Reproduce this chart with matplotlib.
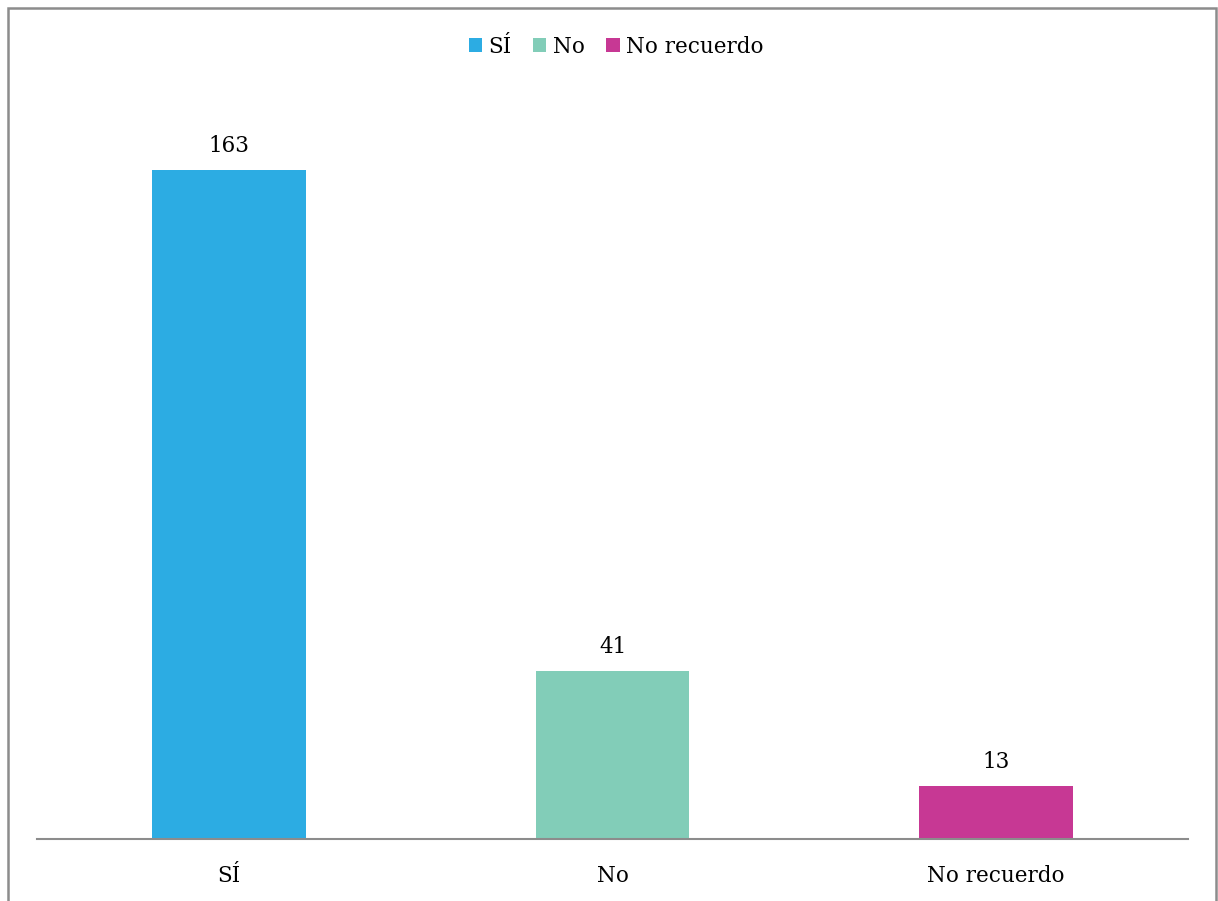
import matplotlib
matplotlib.use('Agg')
import matplotlib.pyplot as plt
from matplotlib.patches import Rectangle, Patch

# Data
categories = ['SÍ', 'No', 'No recuerdo']
values = [163, 41, 13]
colors = ['#2CACE3', '#82CDB8', '#C73894']

plt.rcParams['font.family'] = ['DejaVu Serif']
FS = 15.5

fig = plt.figure(figsize=(12.18, 9.01), dpi=100)
W, H = 1218, 901

# axes placed in pixels: x 37..1188, y 100..839 (from top)
ax = fig.add_axes([37 / W, 1 - 839 / H, (1188 - 37) / W, (839 - 100) / H])
x = range(len(categories))
ax.bar(x, values, width=0.4, color=colors)
for xi, v in zip(x, values):
    ax.annotate(str(v), (xi, v), xytext=(0, 9), textcoords='offset points',
                ha='center', va='bottom', fontsize=FS, color='#000000')

ax.set_xlim(-0.5, 2.5)
ax.set_ylim(0, 180)
ax.set_yticks([])
ax.set_xticks(list(x))
ax.set_xticklabels(categories, fontsize=FS)
ax.tick_params(axis='x', length=0, pad=19)
for s in ['top', 'right', 'left']:
    ax.spines[s].set_visible(False)
ax.spines['bottom'].set_color('#8C8C8C')
ax.spines['bottom'].set_linewidth(1.5)

handles = [Patch(facecolor=c, label=l) for c, l in zip(colors, categories)]
fig.legend(handles=handles, loc='center', bbox_to_anchor=(616 / W, 1 - 47 / H),
           ncol=3, frameon=False, fontsize=FS, handlelength=0.62, handleheight=0.62,
           handletextpad=0.3, columnspacing=1.0)

# outer border
fig.add_artist(Rectangle((7.5 / W, -0.05), (1216 - 7.5) / W, 1 - 7.5 / H + 0.05,
                         transform=fig.transFigure, fill=False,
                         edgecolor='#8C8C8C', linewidth=1.8))

fig.savefig('out.png', dpi=100)
